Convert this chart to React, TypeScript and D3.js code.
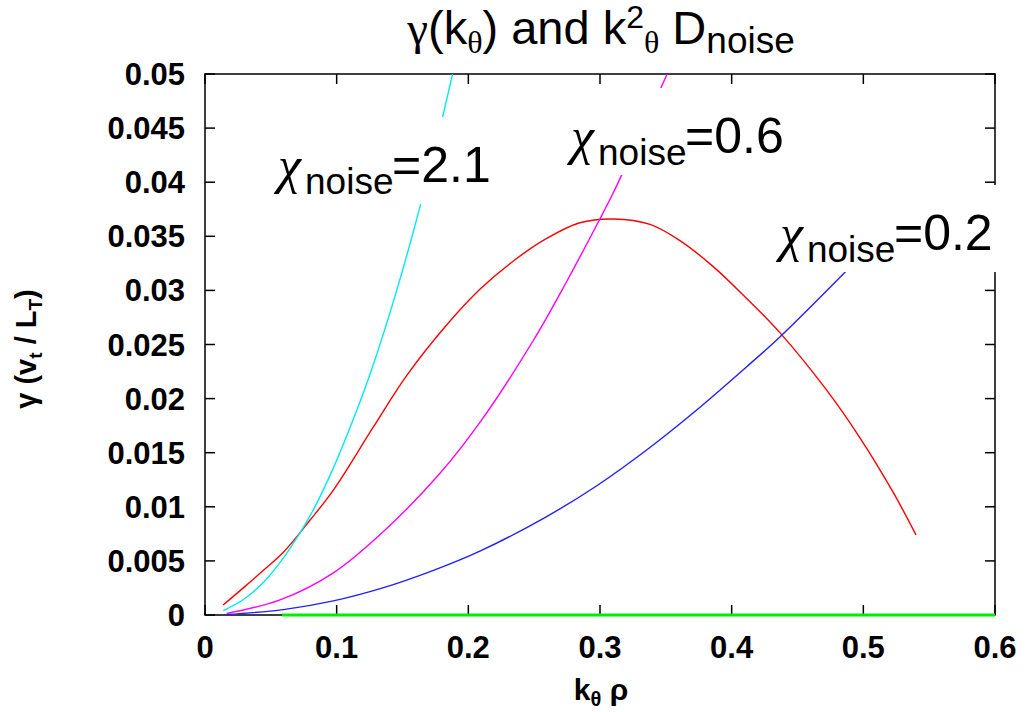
import React from 'react';
import * as d3 from 'd3';

// ---- axes ----
const xTicks = [0, 0.1, 0.2, 0.3, 0.4, 0.5, 0.6];
const xTickLabels = ['0', '0.1', '0.2', '0.3', '0.4', '0.5', '0.6'];
const yTicks = [0, 0.005, 0.01, 0.015, 0.02, 0.025, 0.03, 0.035, 0.04, 0.045, 0.05];
const yTickLabels = ['0', '0.005', '0.01', '0.015', '0.02', '0.025', '0.03', '0.035', '0.04', '0.045', '0.05'];

// ---- growth rate gamma(k) (red) ----
const gammaK = [0.0137, 0.03, 0.045, 0.0595, 0.08, 0.0975, 0.128, 0.153, 0.1835, 0.2088, 0.234, 0.2595, 0.2847, 0.31, 0.338, 0.3607, 0.386, 0.411, 0.4366, 0.472, 0.4973, 0.5226, 0.54];
const gammaV = [0.00092, 0.0026, 0.0042, 0.0058, 0.0088, 0.01155, 0.0174, 0.0221, 0.0268, 0.0301, 0.0327, 0.0348, 0.03625, 0.0366, 0.0361, 0.0346, 0.0322, 0.0293, 0.0261, 0.0208, 0.0164, 0.01135, 0.0074];

// ---- k^2 D_noise, chi = 2.1 (cyan) ----
const chi21K = [0.0139, 0.03, 0.045, 0.062, 0.08, 0.0975, 0.113, 0.128, 0.148, 0.163, 0.18, 0.188];
const chi21V = [0.0004, 0.0015, 0.0031, 0.0057, 0.0092, 0.0136, 0.0182, 0.0232, 0.031, 0.0376, 0.0458, 0.05];

// ---- k^2 D_noise, chi = 0.6 (magenta) ----
const chi06K = [0.0165, 0.057, 0.0975, 0.138, 0.1785, 0.2088, 0.249, 0.2746, 0.2999, 0.31, 0.3177, 0.351];
const chi06V = [0.00015, 0.0014, 0.0039, 0.008, 0.0131, 0.0178, 0.0253, 0.0308, 0.0366, 0.039, 0.041, 0.05];

// ---- k^2 D_noise, chi = 0.2 (blue) ----
const chi02K = [0.0165, 0.0595, 0.0975, 0.135, 0.173, 0.2088, 0.2595, 0.297, 0.3354, 0.373, 0.411, 0.4366, 0.487];
const chi02V = [0.00004, 0.0005, 0.0013, 0.0025, 0.0041, 0.0059, 0.0091, 0.0119, 0.01525, 0.0189, 0.0229, 0.0257, 0.0318];

// ---- zero line (green) ----
const zeroK = [0.0585, 0.6];
const zeroV = [0, 0];

// ---- annotations ----
const labelValues = ['2.1', '0.6', '0.2'];
const labelK = [0.057, 0.2795, 0.4382];
const labelG = [0.04002, 0.0427, 0.03373];

const W = 1026;
const H = 712;
const M = { left: 205, right: 995, top: 74, bottom: 615 };

const SANS = '"Liberation Sans", Arial, Helvetica, sans-serif';
const SERIF = '"Liberation Serif", "DejaVu Serif", serif';

export default function App() {
  const x = d3.scaleLinear().domain([0, 0.6]).range([M.left, M.right]);
  const y = d3.scaleLinear().domain([0, 0.05]).range([M.bottom, M.top]);

  const line = d3
    .line<[number, number]>()
    .x((d) => x(d[0]))
    .y((d) => y(d[1]))
    .curve(d3.curveCatmullRom.alpha(0.5));

  const zip = (ks: number[], vs: number[]) => ks.map((k, i) => [k, vs[i]] as [number, number]);

  const series = [
    { key: 'gamma', color: '#ff0000', data: zip(gammaK, gammaV) },
    { key: 'chi06', color: '#ff00ff', data: zip(chi06K, chi06V) },
    { key: 'chi02', color: '#2020ff', data: zip(chi02K, chi02V) },
    { key: 'chi21', color: '#00eaf2', data: zip(chi21K, chi21V) },
  ];

  const tickLen = 10;

  return (
    <svg
      width={W}
      height={H}
      style={{ position: 'absolute', left: 0, top: 0, display: 'block', background: '#fff' }}
    >
      <defs>
        <clipPath id="plotClip">
          <rect x={M.left} y={M.top} width={M.right - M.left} height={M.bottom - M.top} />
        </clipPath>
      </defs>

      {/* title */}
      <text x={601} y={44} textAnchor="middle" fontFamily={SANS} fontSize={47} fill="#000">
        <tspan fontFamily={SERIF}>γ</tspan>
        <tspan>(k</tspan>
        <tspan fontFamily={SERIF} fontSize={32} dy={9}>θ</tspan>
        <tspan dy={-9}>) and k</tspan>
        <tspan fontSize={32} dy={-16}>2</tspan>
        <tspan fontFamily={SERIF} fontSize={32} dy={25}>θ</tspan>
        <tspan dy={-9}> D</tspan>
        <tspan fontSize={37} dy={9}>noise</tspan>
      </text>

      {/* frame */}
      <rect
        x={M.left}
        y={M.top}
        width={M.right - M.left}
        height={M.bottom - M.top}
        fill="none"
        stroke="#000"
        strokeWidth={1.5}
      />

      {/* x ticks */}
      {xTicks.map((t, i) => (
        <g key={'xt' + i}>
          <line x1={x(t)} x2={x(t)} y1={M.bottom} y2={M.bottom - tickLen} stroke="#000" strokeWidth={1.5} />
          <line x1={x(t)} x2={x(t)} y1={M.top} y2={M.top + tickLen} stroke="#000" strokeWidth={1.5} />
          <text
            x={x(t)}
            y={658}
            textAnchor="middle"
            fontFamily={SANS}
            fontWeight="bold"
            fontSize={31}
            fill="#000"
          >
            {xTickLabels[i]}
          </text>
        </g>
      ))}

      {/* y ticks */}
      {yTicks.map((t, i) => (
        <g key={'yt' + i}>
          <line x1={M.left} x2={M.left + tickLen} y1={y(t)} y2={y(t)} stroke="#000" strokeWidth={1.5} />
          <line x1={M.right} x2={M.right - tickLen} y1={y(t)} y2={y(t)} stroke="#000" strokeWidth={1.5} />
          <text
            x={185}
            y={y(t) + 11}
            textAnchor="end"
            fontFamily={SANS}
            fontWeight="bold"
            fontSize={31}
            fill="#000"
          >
            {yTickLabels[i]}
          </text>
        </g>
      ))}

      {/* zero line */}
      <path d={line(zip(zeroK, zeroV)) || ''} fill="none" stroke="#00ee00" strokeWidth={3} />

      {/* curves */}
      <g clipPath="url(#plotClip)">
        {series.map((s) => (
          <path key={s.key} d={line(s.data) || ''} fill="none" stroke={s.color} strokeWidth={1.4} />
        ))}
      </g>

      {/* annotations with opaque boxes */}
      {labelValues.map((v, i) => {
        const lx = x(labelK[i]);
        const ly = y(labelG[i]);
        return (
          <g key={'lab' + i}>
            <rect x={lx - 6} y={ly - 65} width={228} height={87} fill="#fff" />
            <text x={lx - 2} y={ly + 1} fontFamily={SERIF} fontStyle="italic" fontSize={52} fill="#000">
              χ
            </text>
            <text x={lx + 25} y={ly + 12} fontFamily={SANS} fontSize={37} fill="#000">
              noise
            </text>
            <text x={lx + 112} y={ly} fontFamily={SANS} fontSize={50} fill="#000">
              ={v}
            </text>
          </g>
        );
      })}

      {/* axis titles */}
      <text
        transform={`translate(36,349) rotate(-90)`}
        textAnchor="middle"
        fontFamily={SANS}
        fontWeight="bold"
        fontSize={29}
        fill="#000"
      >
        <tspan>γ (v</tspan>
        <tspan fontSize={19} dy={6}>t</tspan>
        <tspan dy={-6}> / L</tspan>
        <tspan fontSize={19} dy={6}>T</tspan>
        <tspan dy={-6}>)</tspan>
      </text>
      <text x={601} y={700} textAnchor="middle" fontFamily={SANS} fontWeight="bold" fontSize={30} fill="#000">
        <tspan>k</tspan>
        <tspan fontSize={20} dy={6}>θ</tspan>
        <tspan dy={-6}> ρ</tspan>
      </text>
    </svg>
  );
}
